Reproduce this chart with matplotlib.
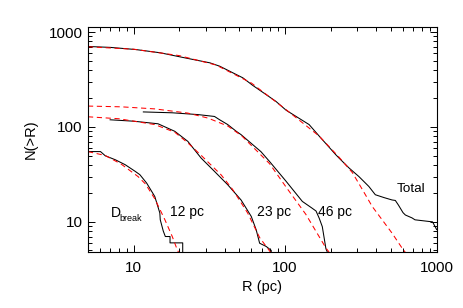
import matplotlib
matplotlib.use("Agg")
import matplotlib.pyplot as plt

plt.rcParams['font.family'] = ['Liberation Sans', 'DejaVu Sans']

# ---- data (R in pc, N(>R)) ----
total_R = [5.0, 7.0, 10.3, 15, 21.8, 31.9, 37, 52.7, 61, 87, 101.6, 144, 168, 216, 227, 264, 307, 357, 394, 450, 508, 534, 560, 600, 622, 688, 720, 885, 940, 1000]
total_N = [705, 690, 655, 605, 535, 474, 437, 329, 275, 186, 150, 106, 80, 51, 47, 37, 30, 23.6, 19.3, 18, 17, 16.8, 15, 12.5, 11.8, 11.0, 10.5, 10.1, 10.0, 8.3]
total_fit_R = [5, 10, 20, 35, 60, 100, 168, 227, 278, 323, 376, 437, 508, 591, 620]
total_fit_N = [700, 660, 565, 450, 290, 155, 80, 48, 33, 22, 14.5, 10.5, 7.6, 5.3, 4.8]

d46_R = [11.6, 18, 26.6, 34.2, 37, 41.8, 47.6, 51.2, 61.2, 69.2, 78.8, 101.6, 130, 150, 160, 168, 176, 186, 190]
d46_N = [144, 141, 135, 129, 119, 106, 90, 83, 65, 55, 43.4, 26.7, 16.4, 14.0, 13.0, 10.9, 8.9, 5.2, 4.8]
d46_fit_R = [5, 8.3, 13.8, 22.8, 31, 42, 52, 61, 79, 102, 137, 186, 195]
d46_fit_N = [166, 163, 155, 140, 124, 102, 80, 62, 41, 23, 12, 5.3, 4.8]

d23_R = [7.0, 10, 14.5, 18.7, 22.8, 27.9, 34.2, 41.8, 51.2, 59.8, 64.5, 67.9, 75, 81, 81]
d23_N = [119, 115, 108, 90, 70.5, 47, 34, 24.6, 17, 11.4, 8.2, 5.95, 5.5, 5.0, 4.8]
d23_fit_R = [5, 8, 13.8, 18.7, 22.8, 28, 37.8, 45, 56.6, 68, 80]
d23_fit_N = [128, 122, 106, 88, 68, 50, 31.3, 22, 12.4, 6.8, 4.8]

d12_R = [5.0, 6.05, 6.5, 7.6, 8.8, 10.26, 11, 12.2, 13.8, 14.9, 15.0, 15.7, 16.2, 17.4, 17.4, 21.1, 21.1]
d12_N = [55, 55, 49.7, 45, 40, 34, 31.4, 25.6, 18.5, 12.4, 10.5, 8.0, 7.0, 7.0, 6.0, 6.0, 4.8]
d12_fit_R = [5, 6.5, 8.3, 10.7, 12, 13.8, 16.1, 18, 19.4, 20.2]
d12_fit_N = [55, 50, 40.5, 30, 25, 17.5, 10.5, 7, 5.1, 4.5]

labels = ["12 pc", "23 pc", "46 pc"]

fig = plt.figure(figsize=(4.63, 3.08), dpi=100)
ax = fig.add_axes([0.190, 0.183, 0.753, 0.728])

lw = 0.75
for R, N in [(total_R, total_N), (d46_R, d46_N), (d23_R, d23_N), (d12_R, d12_N)]:
    ax.plot(R, N, color='black', lw=lw)
for R, N in [(total_fit_R, total_fit_N), (d46_fit_R, d46_fit_N), (d23_fit_R, d23_fit_N), (d12_fit_R, d12_fit_N)]:
    ax.plot(R, N, color='red', lw=lw, linestyle=(0, (5, 3.5)))

ax.set_xscale('log')
ax.set_yscale('log')
ax.set_xlim(5, 1000)
ax.set_ylim(4.85, 1120)

ax.set_xticks([10, 100, 1000])
ax.set_xticklabels(['10', '100', '1000'])
ax.set_yticks([10, 100, 1000])
ax.set_yticklabels(['10', '100', '1000'])
ax.tick_params(which='both', direction='in', top=True, right=True, width=0.7)
ax.tick_params(which='major', length=5.3)
ax.tick_params(which='minor', length=2.7)
ax.tick_params(axis='x', which='major', labelsize=11, pad=7)
ax.tick_params(axis='y', which='major', labelsize=11, pad=4)
for s in ax.spines.values():
    s.set_linewidth(0.8)

ax.set_xlabel('R (pc)', fontsize=10.5, labelpad=3)
ax.set_ylabel('N(>R)', fontsize=10.5, labelpad=8)

ax.text(0.065, 0.156, 'D', transform=ax.transAxes, fontsize=10, va='baseline', ha='left')
ax.text(0.090, 0.137, 'break', transform=ax.transAxes, fontsize=6.5, va='baseline', ha='left')
ax.text(0.235, 0.178, labels[0], transform=ax.transAxes, fontsize=10, va='center', ha='left')
ax.text(0.484, 0.178, labels[1], transform=ax.transAxes, fontsize=10, va='center', ha='left')
ax.text(0.660, 0.178, labels[2], transform=ax.transAxes, fontsize=10, va='center', ha='left')
ax.text(0.885, 0.278, 'Total', transform=ax.transAxes, fontsize=9.7, va='center', ha='left')

fig.savefig('out.png', dpi=100)
